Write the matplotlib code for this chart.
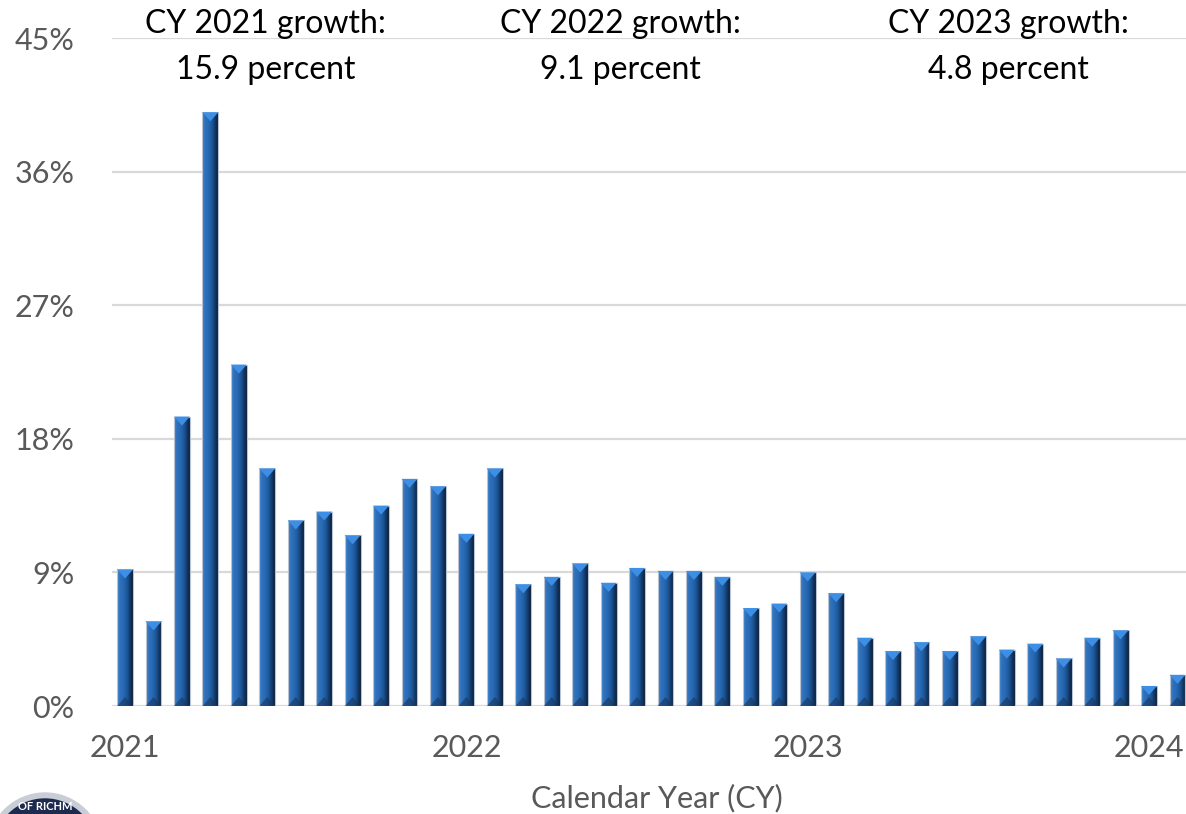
import matplotlib.pyplot as plt
import numpy as np
from matplotlib.patches import Polygon, Circle
from matplotlib.colors import LinearSegmentedColormap

plt.rcParams['font.family'] = ['Lato', 'DejaVu Sans']

# monthly growth, Jan 2021 - Feb 2024 (percent)
months = np.arange(38)
growth = [9.2, 5.7, 19.5, 40.0, 23.0, 16.0, 12.5, 13.1, 11.5, 13.5, 15.3, 14.8,
          11.6, 16.0, 8.2, 8.7, 9.6, 8.3, 9.3, 9.1, 9.1, 8.7, 6.6, 6.9,
          9.0, 7.6, 4.6, 3.7, 4.3, 3.7, 4.7, 3.8, 4.2, 3.2, 4.6, 5.1,
          1.35, 2.1]
year_ticks = [0, 12, 24, 36]
year_labels = ['2021', '2022', '2023', '2024']
y_ticks = [0, 9, 18, 27, 36, 45]
notes = [('CY 2021 growth:', '15.9 percent', 4.95),
         ('CY 2022 growth:', '9.1 percent', 17.4),
         ('CY 2023 growth:', '4.8 percent', 31.05)]

fig = plt.figure(figsize=(11.86, 8.14), dpi=100)
ax = fig.add_axes([112 / 1186, 1 - 706 / 814, 1 - 112 / 1186, 668 / 814])
ax.set_xlim(-0.46, 37.3)
ax.set_ylim(0, 45)

for yv in y_ticks:
    ax.axhline(yv, color='#d9d9d9', lw=1.6, zorder=0)

cmap = LinearSegmentedColormap.from_list(
    'bar', ['#4585cc', '#2f70ba', '#2769b2', '#1f5a9e', '#153d6e', '#0b1e38'])
grad = np.linspace(0, 1, 64).reshape(1, -1)
w = 0.56
tri = 45 / 668 * 9
bars = ax.bar(months, growth, width=w, color='none', edgecolor='#b8c4d4', lw=0.8, zorder=2)
for b, v in zip(bars, growth):
    x0 = b.get_x()
    im = ax.imshow(grad, cmap=cmap, aspect='auto', extent=[x0, x0 + w, 0, v],
                   zorder=1, interpolation='bilinear')
    im.set_clip_path(b)
    ax.add_patch(Polygon([[x0, v], [x0 + w, v], [x0 + w / 2, v - tri]],
                         closed=True, color='#3d8fe6', zorder=3, lw=0))
    ax.add_patch(Polygon([[x0, 0], [x0 + w, 0], [x0 + w / 2, min(tri, v)]],
                         closed=True, color='#16365f', zorder=3, lw=0, alpha=0.6))

ax.set_xticks(year_ticks)
ax.set_xticklabels(year_labels)
ax.set_yticks(y_ticks)
ax.set_yticklabels([f'{t}%' for t in y_ticks])
ax.tick_params(length=0, labelsize=22, colors='#595959')
ax.tick_params(axis='x', pad=20)
ax.tick_params(axis='y', pad=27)
for s in ax.spines.values():
    s.set_visible(False)
ax.set_xlabel('Calendar Year (CY)', fontsize=22, color='#595959')
ax.xaxis.set_label_coords(0.5075, -0.116)

trans = ax.get_xaxis_transform()
for l1, l2, xc in notes:
    ax.text(xc, 1 + (38 - 24) / 668, l1, transform=trans,
            ha='center', va='center', fontsize=23, color='black')
    ax.text(xc, 1 - (70 - 38) / 668, l2, transform=trans,
            ha='center', va='center', fontsize=23, color='black')

# seal in bottom-left corner
ax_logo = fig.add_axes([0, 0, 110 / 1186, 50 / 814])
ax_logo.set_xlim(0, 110)
ax_logo.set_ylim(0, 50)
ax_logo.axis('off')
ax_logo.add_patch(Circle((45, -36), 57, color='#c9cdd6', zorder=1))
ax_logo.add_patch(Circle((45, -36), 51, color='#1b2a4e', zorder=2))
ax_logo.text(45, 8, 'OF RICHM', color='white', fontsize=8, ha='center', va='center',
             fontweight='bold', zorder=3)

fig.savefig('out.png', dpi=100)
